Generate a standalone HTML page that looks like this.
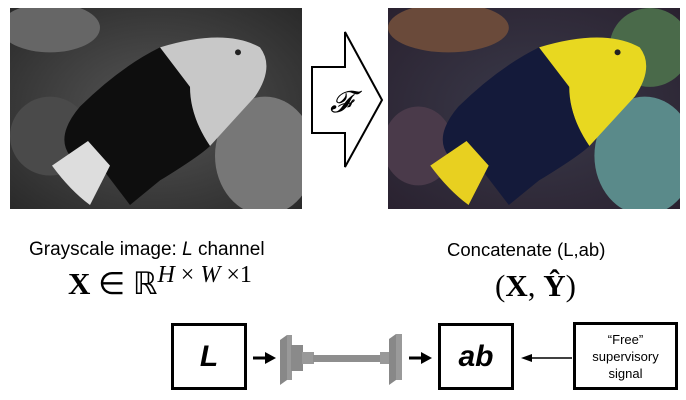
<!DOCTYPE html>
<html><head><meta charset="utf-8"><style>
body{margin:0;width:686px;height:400px;background:#fff;position:relative;overflow:hidden;font-family:"Liberation Sans",sans-serif}
.a{position:absolute}
.box{position:absolute;border:3px solid #000;box-sizing:border-box;display:flex;align-items:center;justify-content:center;font-weight:bold;font-style:italic;font-size:30px}
.lab{position:absolute;font-size:18px;white-space:nowrap;line-height:20px}
.m{position:absolute;font-family:"Liberation Serif",serif;white-space:nowrap;line-height:32px}
.s{font-size:24px;position:relative;top:-12px}
</style></head><body>
<svg class="a" style="left:10px;top:8px" width="292" height="201" viewBox="0 0 292 204" preserveAspectRatio="none">
<defs><radialGradient id="g1" cx="0.5" cy="0.5" r="0.7"><stop offset="0" stop-color="#555"/><stop offset="1" stop-color="#2a2a2a"/></radialGradient></defs>
<rect width="292" height="204" fill="url(#g1)"/>
<ellipse cx="40" cy="20" rx="50" ry="25" fill="#666"/><ellipse cx="255" cy="150" rx="50" ry="60" fill="#777"/><ellipse cx="40" cy="130" rx="40" ry="40" fill="#4a4a4a"/>
<path d="M150 40 Q215 20 250 40 Q265 60 245 90 L200 140 Q185 120 180 90 Z" fill="#c8c8c8"/>
<path d="M150 40 Q110 60 70 100 Q45 130 60 150 L90 160 L120 200 L150 175 Q190 150 200 140 Q180 110 180 80 Z" fill="#0e0e0e"/>
<path d="M42 160 L78 135 L100 160 L80 200 Q60 185 42 160 Z" fill="#ddd"/>
<circle cx="228" cy="45" r="3" fill="#222"/>
</svg>
<svg class="a" style="left:300px;top:30px" width="90" height="160" viewBox="0 0 90 160">
<polygon points="12,37 45,37 45,2 82,70 45,137 45,103 12,103" fill="#fff" stroke="#000" stroke-width="2"/>
<text x="30" y="82" font-family="Liberation Serif,serif" font-style="italic" font-size="30">𝓕</text>
</svg>
<svg class="a" style="left:388px;top:8px" width="292" height="201" viewBox="0 0 290 204" preserveAspectRatio="none">
<defs><radialGradient id="g2" cx="0.5" cy="0.5" r="0.7"><stop offset="0" stop-color="#3a3a4a"/><stop offset="1" stop-color="#2a2230"/></radialGradient></defs>
<rect width="290" height="204" fill="url(#g2)"/>
<ellipse cx="60" cy="20" rx="60" ry="25" fill="#6a4a3a"/><ellipse cx="255" cy="150" rx="50" ry="60" fill="#5a8a8a"/><ellipse cx="260" cy="40" rx="40" ry="40" fill="#4a6a4a"/><ellipse cx="30" cy="140" rx="35" ry="40" fill="#4a3a4a"/>
<path d="M150 40 Q215 20 250 40 Q265 60 245 90 L200 140 Q185 120 180 90 Z" fill="#e8d820"/>
<path d="M150 40 Q110 60 70 100 Q45 130 60 150 L90 160 L120 200 L150 175 Q190 150 200 140 Q180 110 180 80 Z" fill="#141a3a"/>
<path d="M42 160 L78 135 L100 160 L80 200 Q60 185 42 160 Z" fill="#e8d020"/>
<circle cx="228" cy="45" r="3" fill="#222"/>
</svg>
<div class="lab" style="left:29px;top:240px;font-size:19px">Grayscale image: <i>L</i> channel</div>
<div class="lab" style="left:447px;top:240px;font-size:18.5px">Concatenate (L,ab)</div>
<div class="m" style="left:68px;top:268px;font-size:31px"><b>X</b> ∈ ℝ<span class="s" style="font-style:italic">H</span><span class="s"> × </span><span class="s" style="font-style:italic">W</span><span class="s"> ×1</span></div>
<div class="m" style="left:495px;top:270px;font-size:31px">(<b>X</b>, <b>Ŷ</b>)</div>
<div class="box" style="left:171px;top:323px;width:76px;height:67px">L</div>
<div class="box" style="left:438px;top:323px;width:76px;height:67px">ab</div>
<div class="box" style="left:573px;top:322px;width:105px;height:68px;font-weight:normal;font-style:normal;font-size:13px;text-align:center;line-height:17px">“Free”<br>supervisory<br>signal</div>
<svg class="a" style="left:0;top:0" width="686" height="400">
<line x1="253" y1="358" x2="267" y2="358" stroke="#000" stroke-width="3"/><polygon points="265,352 276,358 265,364"/>
<line x1="409" y1="358" x2="423" y2="358" stroke="#000" stroke-width="3"/><polygon points="421,352 432,358 421,364"/>
<line x1="531" y1="358" x2="572" y2="358" stroke="#000" stroke-width="1.5"/><polygon points="521,358 532,354 532,362"/>
<polygon points="280,340 287,335 287,380 280,385" fill="#888"/><polygon points="287,335 292,335 292,380 287,380" fill="#999"/>
<rect x="291" y="345" width="12" height="26" fill="#8a8a8a"/><rect x="302" y="352" width="12" height="12" fill="#999"/>
<rect x="313" y="355" width="70" height="7" fill="#8e8e8e"/>
<rect x="380" y="352" width="10" height="12" fill="#999"/>
<polygon points="389,339 396,334 396,380 389,385" fill="#888"/><polygon points="396,334 402,334 402,380 396,380" fill="#9a9a9a"/>
</svg>
</body></html>
